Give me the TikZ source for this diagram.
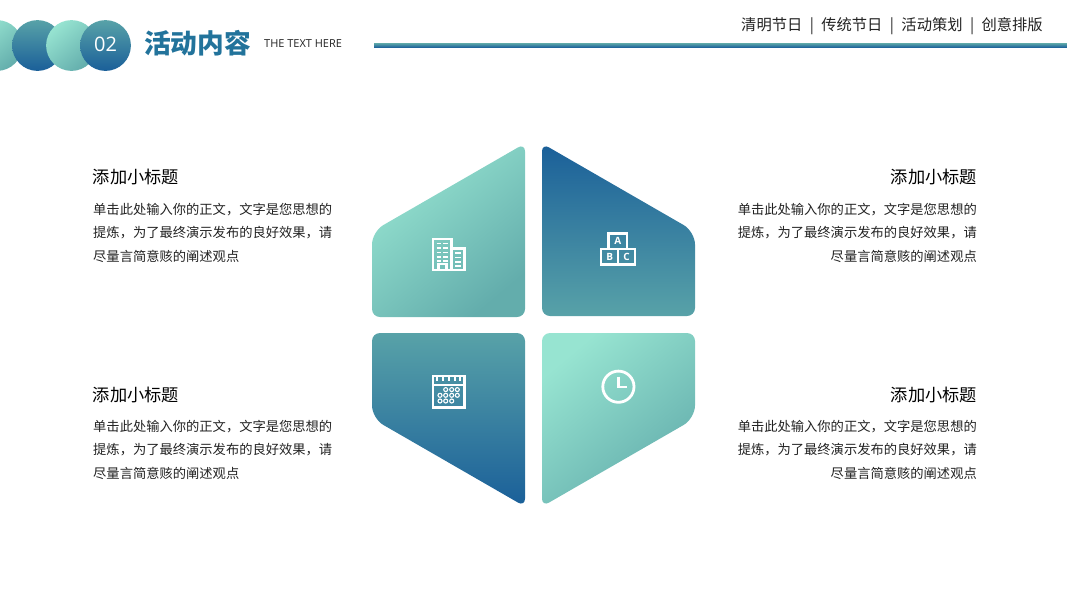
\documentclass[tikz,border=0pt]{standalone}
\usepackage{fontspec}
\setmainfont{Noto Sans CJK SC}
\newfontfamily\latinf{Open Sans}
\definecolor{blueD}{HTML}{1A5F99}
\definecolor{blueL}{HTML}{58A2A8}
\definecolor{tealL}{HTML}{97E4D1}
\definecolor{tealD}{HTML}{63ADAC}
\definecolor{titleblue}{HTML}{22739B}
\definecolor{ink}{HTML}{222222}
\tikzset{
  x=1pt,y=-1pt,
  bluedown/.style={top color=blueL,bottom color=blueD,shading angle=0},
  blueup/.style={top color=blueD,bottom color=blueL,shading angle=0},
  tealdiag/.style={top color=tealL,bottom color=tealD,shading angle=40},
  subtitle/.style={text=black,inner sep=0pt,font=\fontsize{17.2}{20}\selectfont},
  bodyline/.style={text=ink,inner sep=0pt,font=\fontsize{13.28}{16}\selectfont},
  iconline/.style={draw=white,line width=2.5pt,line join=miter},
  iconthin/.style={draw=white,line width=1.8pt},
  iconletter/.style={text=white,inner sep=0pt,font=\latinf\bfseries\fontsize{10}{10}\selectfont},
}
\begin{document}
\begin{tikzpicture}
\useasboundingbox (0,0) rectangle (1067,600);
% header discs
\shade[tealdiag] (-3,45.5) circle (25.4pt);
\shade[bluedown] (37.5,45.5) circle (25.4pt);
\shade[tealdiag] (71.5,45.5) circle (25.4pt);
\shade[bluedown] (105.5,45.5) circle (25.4pt);
\node[text=white,inner sep=0pt,font=\latinf\fontsize{20}{22}\selectfont] (num) at (105.5,44.5) {02};
\node[anchor=west,text=titleblue,inner sep=0pt,font=\bfseries\fontsize{26.7}{30}\selectfont] (title) at (144,43.5) {活动内容};
\node[anchor=west,text=ink,inner sep=0pt,font=\latinf\fontsize{11}{12}\selectfont] (sub) at (264,44) {THE TEXT HERE};
\node[anchor=east,text=ink,inner sep=0pt,font=\fontsize{15.3}{18}\selectfont] (nav) at (1043,26) {清明节日\hspace{7.4pt}|\hspace{7.4pt}传统节日\hspace{7.4pt}|\hspace{7.4pt}活动策划\hspace{7.4pt}|\hspace{7.4pt}创意排版};
\shade[bluedown] (374,43.5) rectangle (1067,47.5);
% panels (each path starts in the middle of an edge so every corner rounds)
\shade[tealdiag] (450,317) [rounded corners=8pt] -- (372,317) [rounded corners=13pt] -- (372,231.6) [rounded corners=8pt] -- (525,143.4) [rounded corners=8pt] -- (525,317) -- cycle;
\shade[blueup] (620,316) [rounded corners=8pt] -- (542,316) [rounded corners=8pt] -- (542,143.4) [rounded corners=13pt] -- (695,231.6) [rounded corners=8pt] -- (695,316) -- cycle;
\shade[bluedown] (450,333) [rounded corners=8pt] -- (525,333) [rounded corners=8pt] -- (525,506.6) [rounded corners=13pt] -- (372,418.4) [rounded corners=8pt] -- (372,333) -- cycle;
\shade[tealdiag] (620,333) [rounded corners=8pt] -- (695,333) [rounded corners=13pt] -- (695,418.4) [rounded corners=8pt] -- (542,506.6) [rounded corners=8pt] -- (542,333) -- cycle;
% building icon
\draw[iconline] (433,270) -- (433,239) -- (451.5,239) -- (451.5,270);
\draw[iconline] (451.5,248.5) -- (464.5,248.5) -- (464.5,270) -- (431.8,270);
\draw[iconline] (438.5,270) -- (438.5,264) -- (446.5,264) -- (446.5,270);
\foreach \yy in {243.5,248,252.5,257,260.8}{\draw[iconthin] (436.5,\yy) -- (441.2,\yy) (443,\yy) -- (448.2,\yy);}
\foreach \yy in {253,257.5,262,266.3}{\draw[iconthin] (455,\yy) -- (461,\yy);}
% blocks icon
\draw[iconline] (608.5,249) rectangle (627,233.5);
\draw[iconline] (601,264.5) rectangle (618,249);
\draw[iconline] (618,264.5) rectangle (635,249);
\node[iconletter] (la) at (617.8,241.3) {A};
\node[iconletter] (lb) at (609.6,256.8) {B};
\node[iconletter] (lc) at (626.6,256.8) {C};
% calendar icon
\draw[iconline] (432.8,376) rectangle (464.5,407.5);
\draw[iconthin] (432.8,385) -- (464.5,385);
\foreach \xx in {437,443,449,455,460}{\draw[iconthin] (\xx,376) -- (\xx,381);}
\foreach \xx/\yy in {445.7/389.6,451.7/389.6,457.3/389.6,440/395.3,445.7/395.3,451.7/395.3,457.3/395.3,440/401,445.7/401,451.7/401}{\draw[draw=white,line width=1.1pt] (\xx,\yy) circle (2pt);}
% clock icon
\draw[draw=white,line width=2.8pt] (618.4,386.7) circle (15.6pt);
\draw[draw=white,line width=2.3pt] (618.6,376.5) -- (618.6,387) -- (627,387);
% left texts
\node[anchor=west,subtitle] (t1) at (92.7,177) {添加小标题};
\node[anchor=west,bodyline] (b1a) at (93,209.5) {单击此处输入你的正文，文字是您思想的};
\node[anchor=west,bodyline] (b1b) at (93,233) {提炼，为了最终演示发布的良好效果，请};
\node[anchor=west,bodyline] (b1c) at (93,256.5) {尽量言简意赅的阐述观点};
\node[anchor=west,subtitle] (t3) at (92.7,395) {添加小标题};
\node[anchor=west,bodyline] (b3a) at (93,426.5) {单击此处输入你的正文，文字是您思想的};
\node[anchor=west,bodyline] (b3b) at (93,450) {提炼，为了最终演示发布的良好效果，请};
\node[anchor=west,bodyline] (b3c) at (93,473.5) {尽量言简意赅的阐述观点};
% right texts
\node[anchor=east,subtitle] (t2) at (977,177) {添加小标题};
\node[anchor=east,bodyline] (b2a) at (977,209.5) {单击此处输入你的正文，文字是您思想的};
\node[anchor=east,bodyline] (b2b) at (977,233) {提炼，为了最终演示发布的良好效果，请};
\node[anchor=east,bodyline] (b2c) at (977,256.5) {尽量言简意赅的阐述观点};
\node[anchor=east,subtitle] (t4) at (977,395) {添加小标题};
\node[anchor=east,bodyline] (b4a) at (977,426.5) {单击此处输入你的正文，文字是您思想的};
\node[anchor=east,bodyline] (b4b) at (977,450) {提炼，为了最终演示发布的良好效果，请};
\node[anchor=east,bodyline] (b4c) at (977,473.5) {尽量言简意赅的阐述观点};
\end{tikzpicture}
\end{document}
